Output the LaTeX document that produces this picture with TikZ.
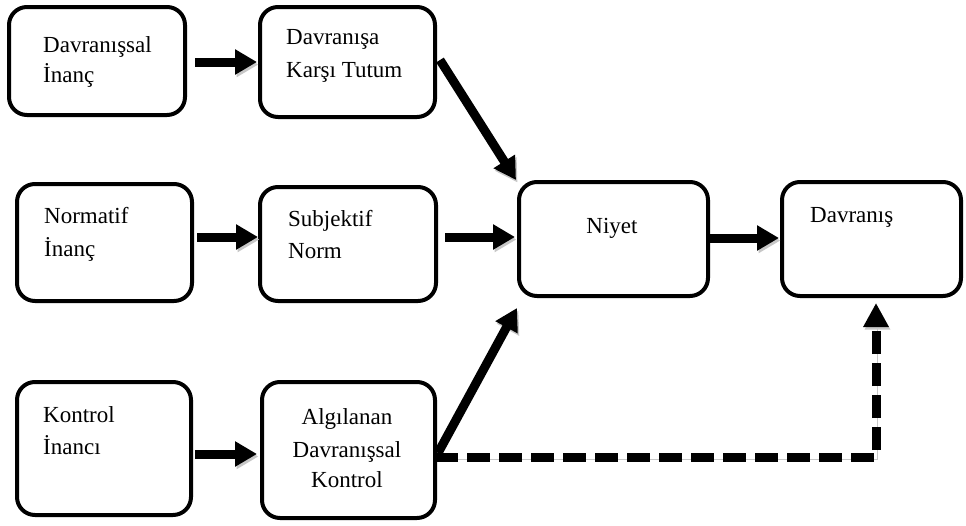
\documentclass[tikz,border=0pt]{standalone}
\usepackage{fontspec}
\setmainfont{Liberation Serif}
\usetikzlibrary{arrows.meta,calc}
\begin{document}
\begin{tikzpicture}[x=1pt,y=-1pt,
  box/.style 2 args={draw=black, line width=4pt, rounded corners=18pt, fill=white,
    minimum width=#1, minimum height=#2, inner sep=0pt, outer sep=0pt},
  txt/.style={anchor=base west, inner sep=0pt, font=\fontsize{23}{28}\selectfont},
  ctxt/.style={anchor=base, inner sep=0pt, font=\fontsize{23}{28}\selectfont},
  shad/.style={preaction={draw=black!22, transform canvas={shift={(1.5pt,-2.5pt)}}}},
  arr/.style={line width=9pt, shad, -{Triangle[length=22pt,width=24pt]}},
  darr/.style={line width=9pt, shad, dash pattern=on 23pt off 9pt, -{Triangle[length=24pt,width=24pt]}}
]
\useasboundingbox (0,0) rectangle (966,525);

% boxes
\node[box={176pt}{108pt}] (b1) at (97,61) {};
\node[box={175pt}{110pt}] (b2) at (347.5,62) {};
\node[box={175pt}{117pt}] (b3) at (104.5,242.5) {};
\node[box={176pt}{114pt}] (b4) at (348,244) {};
\node[box={189pt}{114pt}] (b5) at (613.5,239) {};
\node[box={179pt}{114pt}] (b6) at (871.5,239) {};
\node[box={174pt}{133pt}] (b7) at (104,448.5) {};
\node[box={173pt}{136pt}] (b8) at (348.5,450) {};

% texts
\node[txt] (t1a) at (43,52) {Davranışsal};
\node[txt] (t1b) at (43,82) {İnanç};
\node[txt] (t2a) at (286,44) {Davranışa};
\node[txt] (t2b) at (286,77) {Karşı Tutum};
\node[txt] (t3a) at (44,223) {Normatif};
\node[txt] (t3b) at (44,256) {İnanç};
\node[txt] (t4a) at (288,226) {Subjektif};
\node[txt] (t4b) at (288,258) {Norm};
\node[ctxt] (t5) at (612,233) {Niyet};
\node[txt] (t6) at (810,222) {Davranış};
\node[txt] (t7a) at (43,422) {Kontrol};
\node[txt] (t7b) at (43,454) {İnancı};
\node[ctxt] (t8a) at (347,424) {Algılanan};
\node[ctxt] (t8b) at (347,457) {Davranışsal};
\node[ctxt] (t8c) at (347,487) {Kontrol};

% connectors
\draw[arr, shorten <=10pt, shorten >=3pt] (b1.east |- b2.west) -- (b2.west);
\draw[arr, shorten <=5pt, shorten >=2pt] (b3.east |- 0,237) -- (b4.west |- 0,237);
\draw[arr, shorten <=9pt, shorten >=4pt] (b4.east |- 0,237) -- (b5.west |- 0,237);
\draw[arr, shorten <=2pt, shorten >=3pt] (b5.east |- 0,238) -- (b6.west |- 0,238);
\draw[arr, shorten <=4pt, shorten >=5pt] (b7.east |- 0,454) -- (b8.west |- 0,454);
\draw[arr] ($(b2.east)+(5,-2)$) -- ($(b5.north west)+(-3,-2)$);
\draw[arr] ($(b8.east)+(3,3)$) -- ($(b5.south west)+(-2,12)$);
\coordinate (c1) at (876,457);
\draw[darr] (b8.east |- c1) -- (c1) -- ($(b6.south -| c1)+(0,7)$);
\end{tikzpicture}
\end{document}
